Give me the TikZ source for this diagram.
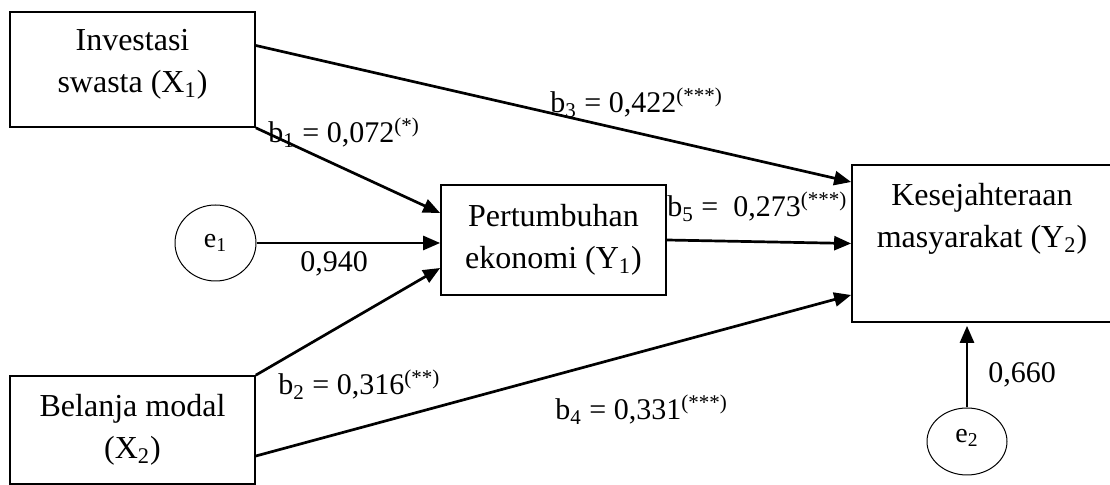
\documentclass[tikz,border=0pt]{standalone}
\usepackage{fontspec}
\setmainfont{Liberation Serif}
\usetikzlibrary{arrows.meta, shapes.geometric, positioning}

\begin{document}
\begin{tikzpicture}[
    x=0.5pt, y=-0.5pt,
    var/.style={draw, rectangle, line width=0.85pt, align=center, inner sep=2pt, font=\fontsize{16}{21}\selectfont},
    err/.style={draw, ellipse, line width=0.5pt, inner sep=0pt, font=\fontsize{14}{16}\selectfont},
    coef/.style={inner sep=0pt, anchor=base west, font=\fontsize{15}{18}\selectfont},
    link/.style={draw, line width=1.35pt, -{Triangle[length=8.5pt, width=7pt]}}
]

\useasboundingbox (0,0) rectangle (1110,485);

% variables
\node[var, minimum width=122.5pt, minimum height=57.5pt, text depth=9pt] (X1) at (132.5,69.5) {Investasi\\swasta (X\textsubscript{1})};
\node[var, minimum width=122.5pt, minimum height=54pt] (X2) at (132.5,430) {Belanja modal\\(X\textsubscript{2})};
\node[var, minimum width=112.5pt, minimum height=55pt] (Y1) at (553.5,240) {Pertumbuhan\\ekonomi (Y\textsubscript{1})};
\node[var, minimum width=130pt, minimum height=78.5pt, text depth=28pt] (Y2) at (982,243.5) {Kesejahteraan\\masyarakat (Y\textsubscript{2})};

% error terms
\node[err, minimum width=40.5pt, minimum height=38pt] (e1) at (215.5,243) {e\textsubscript{1}};
\node[err, minimum width=40pt, minimum height=33.5pt, text depth=6pt] (e2) at (967,441.5) {e\textsubscript{2}};

% paths
\draw[link] ([yshift=12pt]X1.east) -- ([yshift=30.75pt]Y2.west);
\draw[link] (X1.south east) -- ([yshift=13.5pt]Y1.west);
\draw[link] (e1.east) -- (e1.east -| Y1.west);
\draw[link] (X2.north east) -- ([yshift=-14pt]Y1.west);
\draw[link] ([yshift=-13pt]X2.east) -- ([yshift=-25.75pt]Y2.west);
\draw[link] (Y1.east) -- (Y2.west);
\draw[link, shorten >=1.5pt] (e2.north) -- (e2.north |- Y2.south);

% coefficients
\node[coef] (b1) at (268,143) {b\textsubscript{1} = 0,072\textsuperscript{(*)}};
\node[coef] (b3) at (550,113) {b\textsubscript{3} = 0,422\textsuperscript{(***)}};
\node[coef] (r1) at (300,272) {0,940};
\node[coef] (b5) at (667,217) {b\textsubscript{5} =\ \ 0,273\textsuperscript{(***)}};
\node[coef] (b2) at (278,395) {b\textsubscript{2} = 0,316\textsuperscript{(**)}};
\node[coef] (b4) at (555,420) {b\textsubscript{4} = 0,331\textsuperscript{(***)}};
\node[coef] (r2) at (988,383) {0,660};

\end{tikzpicture}
\end{document}
